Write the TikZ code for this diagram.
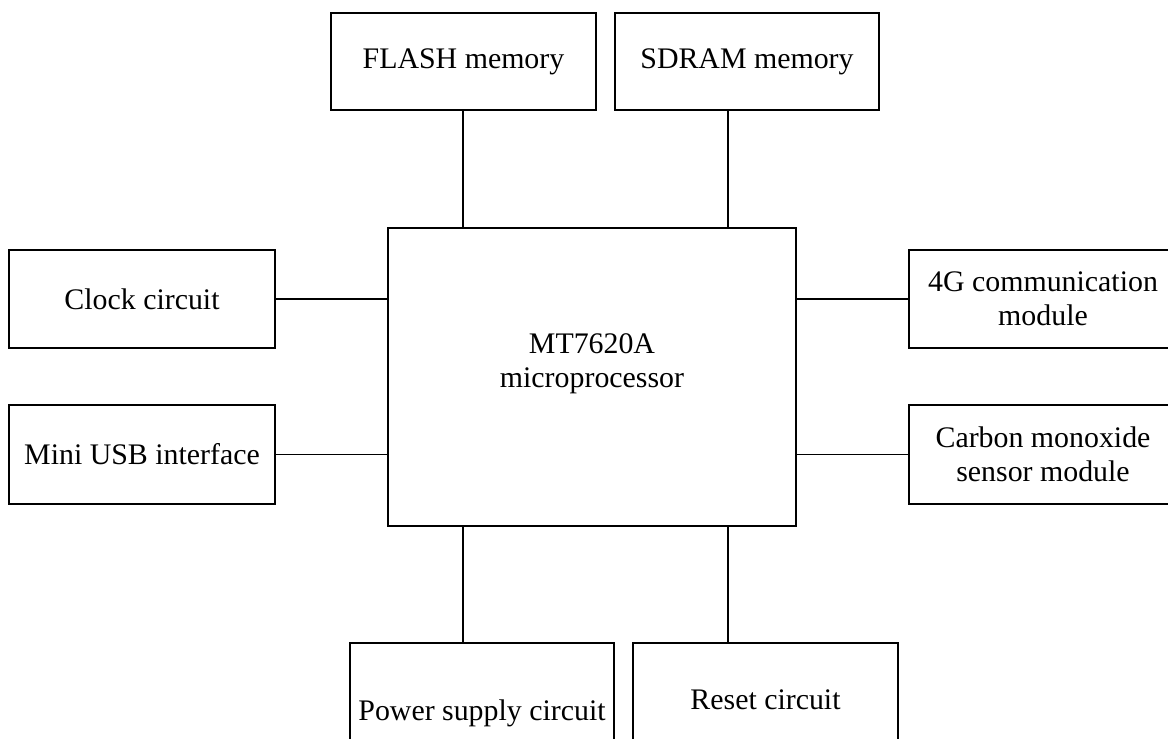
\documentclass[tikz,border=0pt]{standalone}
\usepackage{fontspec}
\setmainfont{Liberation Serif}
\usepackage{tikz}
\usetikzlibrary{positioning,calc}

\begin{document}
\begin{tikzpicture}[x=0.02cm, y=-0.02cm, font=\fontsize{17}{19.5}\selectfont,
    box/.style={draw, line width=1.1pt, rectangle, align=center, inner sep=0pt,
                minimum width=5.3cm, minimum height=1.96cm},
    wire/.style={line width=1.1pt}]
  \clip (0,0) rectangle (1168,738);
  % taps on the processor
  \coordinate (lx) at (463,0);
  \coordinate (rx) at (728,0);
  % processor
  \node[box, minimum width=8.16cm, minimum height=5.96cm] (mcu) at (592,377) {};
  \node[align=center] (mcutxt) at (592,364) {MT7620A\\microprocessor};
  % memories
  \node[box, minimum height=1.94cm] (flash) at (463.5,61.5) {FLASH memory};
  \node[box, minimum width=5.28cm, minimum height=1.94cm] (sdram) at (747,61.5) {SDRAM memory};
  % left side
  \node[box, minimum width=5.32cm] (clk) at (142,299) {Clock circuit};
  \node[box, minimum width=5.32cm, minimum height=1.98cm] (usb) at (142,454.5) {Mini USB interface};
  % right side
  \node[box, minimum width=5.36cm] (lte) at (1043,299) {4G communication\\module};
  \node[box, minimum width=5.36cm, minimum height=1.98cm] (co) at (1043,454.5) {Carbon monoxide\\sensor module};
  % bottom
  \node[box, minimum width=5.28cm, minimum height=2.8cm] (pwr) at (482,713) {Power supply circuit};
  \node[box, minimum height=2.28cm] (rst) at (765.5,700) {Reset circuit};
  % connections
  \draw[wire] (flash.south -| lx) -- (mcu.north -| lx);
  \draw[wire] (sdram.south -| rx) -- (mcu.north -| rx);
  \draw[wire] (clk.east) -- (clk.east -| mcu.west);
  \draw[wire] (usb.east) -- (usb.east -| mcu.west);
  \draw[wire] (lte.west) -- (lte.west -| mcu.east);
  \draw[wire] (co.west) -- (co.west -| mcu.east);
  \draw[wire] (mcu.south -| lx) -- (pwr.north -| lx);
  \draw[wire] (mcu.south -| rx) -- (rst.north -| rx);
\end{tikzpicture}
\end{document}
